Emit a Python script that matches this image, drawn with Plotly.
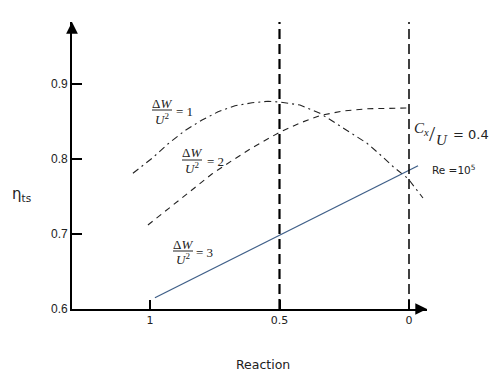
import plotly.graph_objects as go

# ---- data ----
reaction_ticks = [1, 0.5, 0]
reaction_tick_labels = ["1", "0.5", "0"]
eta_ticks = [0.6, 0.7, 0.8, 0.9]
eta_tick_labels = ["0.6", "0.7", "0.8", "0.9"]

curve1_reaction = [1.066, 0.992, 0.931, 0.865, 0.799, 0.737, 0.672, 0.606, 0.544, 0.498, 0.421,
                   0.344, 0.293, 0.228, 0.162, 0.112, 0.062, 0.004, -0.054]
curve1_eta = [0.781, 0.801, 0.820, 0.838, 0.852, 0.863, 0.871, 0.875, 0.877, 0.876, 0.872,
              0.861, 0.850, 0.836, 0.821, 0.806, 0.790, 0.774, 0.748]

curve2_reaction = [1.008, 0.911, 0.838, 0.761, 0.683, 0.610, 0.529, 0.498, 0.421, 0.344, 0.255, 0.162, 0.004]
curve2_eta = [0.712, 0.739, 0.759, 0.780, 0.798, 0.814, 0.830, 0.836, 0.848, 0.858, 0.864, 0.867, 0.868]

curve3_reaction = [0.981, -0.035]
curve3_eta = [0.615, 0.791]

vlines_reaction = [0.5, 0]

X_RANGE = [1.3012, -0.0695]
Y_RANGE = [0.6, 0.9827]

# label placement helpers (approx. page pixel -> paper fraction), layout only
def px(x):
    return (x - 72) / 355.0

def py(y):
    return (309 - y) / 287.0

fig = go.Figure()

fig.add_trace(go.Scatter(x=curve1_reaction, y=curve1_eta, mode="lines",
                         line=dict(color="#222", width=1.1, dash="7px,4px,2px,4px"),
                         showlegend=False, hoverinfo="skip"))
fig.add_trace(go.Scatter(x=curve2_reaction, y=curve2_eta, mode="lines",
                         line=dict(color="#222", width=1.1, dash="6px,5px"),
                         showlegend=False, hoverinfo="skip"))
fig.add_trace(go.Scatter(x=curve3_reaction, y=curve3_eta, mode="lines",
                         line=dict(color="#3f5f88", width=1.3),
                         showlegend=False, hoverinfo="skip"))

shapes = []
shapes.append(dict(type="line", xref="x", yref="paper", x0=vlines_reaction[0], x1=vlines_reaction[0],
                   y0=0, y1=1, line=dict(color="black", width=2.2, dash="10px,5px")))
shapes.append(dict(type="line", xref="x", yref="paper", x0=vlines_reaction[1], x1=vlines_reaction[1],
                   y0=0, y1=1, line=dict(color="black", width=1.5, dash="10px,5px")))

annotations = []
serif = "Liberation Serif"
ink = "#222"

def ann(x, y, text, size, family=serif, xanchor="center"):
    annotations.append(dict(x=px(x), y=py(y), xref="paper", yref="paper", showarrow=False,
                            xanchor=xanchor, yanchor="middle", text=text,
                            font=dict(family=family, size=size, color=ink)))

def fraction(cx, ny, ly, dyy, eqx, eqtext):
    ann(cx, ny, "Δ<i>W</i>", 13)
    ann(cx, dyy, "<i>U</i><sup>2</sup>", 13)
    ann(eqx, ly + 1, eqtext, 13, xanchor="left")
    shapes.append(dict(type="line", xref="paper", yref="paper", x0=px(cx - 10), x1=px(cx + 10),
                       y0=py(ly), y1=py(ly), line=dict(color=ink, width=1)))

fraction(162, 103, 110, 119, 174, "= 1")
fraction(192, 152, 160, 168, 205, "= 2")
fraction(183, 244, 251, 259, 194, "= 3")

# Cx/U = 0.4
ann(421, 129, "<i>C</i><sub><i>x</i></sub>", 15)
ann(432, 133, "/", 22)
ann(442, 140, "<i>U</i>", 15)
ann(451, 134, "= 0.4", 13, family="DejaVu Sans", xanchor="left")
ann(430, 169, "Re =10<sup>5</sup>", 10.5, family="DejaVu Sans", xanchor="left")

# axis titles
ann(263.5, 364, "Reaction", 12.5, family="DejaVu Sans")
ann(21, 195, "η<sub>ts</sub>", 15, family="DejaVu Sans")

# axis arrows
annotations.append(dict(x=0, y=1, xref="paper", yref="paper", ax=0, ay=12,
                        text="", showarrow=True, arrowhead=2, arrowsize=1.3, arrowwidth=1.8, arrowcolor="black"))
annotations.append(dict(x=1, y=0, xref="paper", yref="paper", ax=-12, ay=0,
                        text="", showarrow=True, arrowhead=2, arrowsize=1.3, arrowwidth=1.8, arrowcolor="black"))

fig.update_layout(
    width=492, height=375,
    margin=dict(l=64, r=73, t=14, b=74),
    paper_bgcolor="white", plot_bgcolor="white",
    shapes=shapes, annotations=annotations,
    xaxis=dict(range=X_RANGE, tickvals=reaction_ticks, ticktext=reaction_tick_labels,
               showgrid=False, zeroline=False, showline=True, linecolor="black", linewidth=1.8,
               ticks="inside", ticklen=9, tickwidth=1.8, tickcolor="black",
               tickfont=dict(family="DejaVu Sans", size=11, color=ink)),
    yaxis=dict(range=Y_RANGE, tickvals=eta_ticks, ticktext=eta_tick_labels,
               showgrid=False, zeroline=False, showline=True, linecolor="black", linewidth=1.8,
               ticks="inside", ticklen=10, tickwidth=1.8, tickcolor="black",
               tickfont=dict(family="Liberation Sans", size=12, color=ink)),
)

fig.write_html("out.html")
